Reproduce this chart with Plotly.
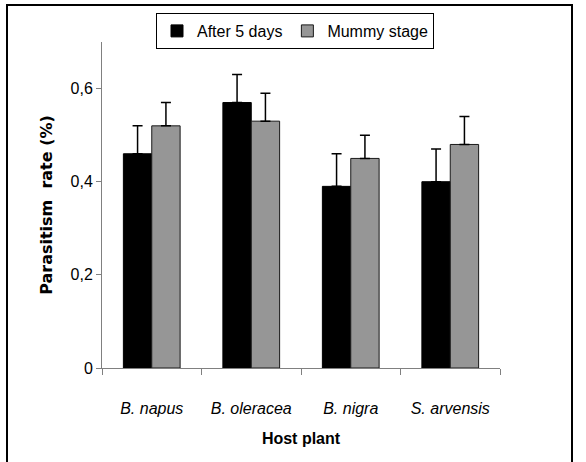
import plotly.graph_objects as go

categories = ["B. napus", "B. oleracea", "B. nigra", "S. arvensis"]
after5 = [0.46, 0.57, 0.39, 0.40]
after5_err = [0.06, 0.06, 0.07, 0.07]
mummy = [0.52, 0.53, 0.45, 0.48]
mummy_err = [0.05, 0.06, 0.05, 0.06]
ytick_vals = [0, 0.2, 0.4, 0.6]
ytick_text = ["0", "0,2", "0,4", "0,6"]

FONT = "Liberation Sans"

fig = go.Figure()
fig.add_trace(go.Bar(
    name="After 5 days", x=categories, y=after5,
    marker=dict(color="#000000", line=dict(color="#000000", width=1)),
    error_y=dict(type="data", array=after5_err, arrayminus=[0]*4, symmetric=False,
                 color="#000000", thickness=1.5, width=5),
))
fig.add_trace(go.Bar(
    name="Mummy stage", x=categories, y=mummy,
    marker=dict(color="#969696", line=dict(color="#1a1a1a", width=1)),
    error_y=dict(type="data", array=mummy_err, arrayminus=[0]*4, symmetric=False,
                 color="#000000", thickness=1.5, width=5),
))

W, H = 586, 462
l, r, t, b = 102, 86, 42, 94
pw, ph = W - l - r, H - t - b

def px(xp):
    return (xp - l) / pw

def py(yp):
    return (H - b - yp) / ph

fig.update_layout(
    width=W, height=H,
    margin=dict(l=l, r=r, t=t, b=b, autoexpand=False),
    paper_bgcolor="white", plot_bgcolor="white",
    barmode="group", bargap=0.43, bargroupgap=0,
    font=dict(family=FONT, size=15, color="#000000"),
    showlegend=True,
    legend=dict(
        orientation="h", x=px(295), y=py(13), xanchor="center", yanchor="top",
        bordercolor="#000000", borderwidth=1, bgcolor="white",
        font=dict(family=FONT, size=16), itemwidth=30, tracegroupgap=0,
    ),
    xaxis=dict(
        automargin=False,
        showline=True, linecolor="#808080", linewidth=1,
        ticks="outside", ticklen=6, tickcolor="#808080", tickson="boundaries",
        tickfont=dict(family=FONT, size=16, style="italic"),
        ticklabelstandoff=26,
        title=dict(text="<b>Host plant</b>", font=dict(family=FONT, size=16), standoff=16),
        showgrid=False, zeroline=False,
    ),
    yaxis=dict(
        automargin=False,
        range=[0, 0.7], tickvals=ytick_vals, ticktext=ytick_text,
        showline=True, linecolor="#808080", linewidth=1,
        ticks="outside", ticklen=5, tickcolor="#808080",
        tickfont=dict(family=FONT, size=16),
        title=dict(text="<b>Parasitism  rate (%)</b>", font=dict(family="DejaVu Sans", size=16), standoff=13),
        showgrid=False, zeroline=False,
    ),
    shapes=[dict(type="rect", xref="paper", yref="paper",
                 x0=px(7), x1=px(572), y0=py(470), y1=py(5),
                 line=dict(color="#000000", width=2), fillcolor="rgba(0,0,0,0)", layer="below")],
)

fig.write_html("out.html", config={"displayModeBar": False},
               post_script="document.body.style.margin='0';")
